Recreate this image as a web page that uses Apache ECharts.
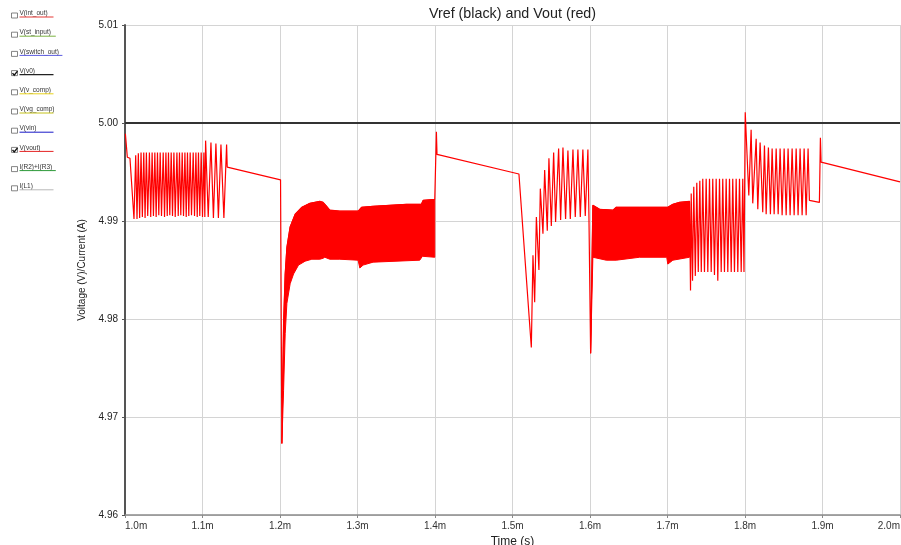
<!DOCTYPE html>
<html>
<head>
<meta charset="utf-8">
<script src="https://cdn.jsdelivr.net/npm/echarts@6/dist/echarts.min.js"></script>
<style>
html,body{margin:0;padding:0;background:#fff;}
#chart{width:901px;height:545px;}
</style>
</head>
<body>
<div id="chart"></div>
<script>
// ---------- DATA ----------
const xTicks = [1.0, 1.1, 1.2, 1.3, 1.4, 1.5, 1.6, 1.7, 1.8, 1.9, 2.0];
const yTicks = [4.96, 4.97, 4.98, 4.99, 5.00, 5.01];

const legendNames = ['V(int_out)', 'V(st_input)', 'V(switch_out)', 'V(v0)', 'V(v_comp)', 'V(vg_comp)', 'V(vin)', 'V(vout)', 'I(R2)+I(R3)', 'I(L1)'];
const legendColors = ['#e53935', '#7cb342', '#5c5ce0', '#222222', '#e8d21a', '#c4c21a', '#1a1ac8', '#e52222', '#2e9a3a', '#b8b8b8'];
const legendChecked = [false, false, false, true, false, false, false, true, false, false];

// Vref (black)
const vref = [[1.0, 5.0], [2.0, 5.0]];

// Vout (red) - trace pieces, [time ms, volts]
const voutSeg1 = [
  [1.0005,4.9989],[1.0030,4.9965],[1.0064,4.9964],[1.0116,4.9902],
  [1.0138,4.9967],[1.0155,4.9902],[1.0172,4.9969],[1.0189,4.9903],
  [1.0207,4.9970],[1.0224,4.9904],[1.0242,4.9970],[1.0259,4.9903],
  [1.0276,4.9970],[1.0293,4.9905],[1.0315,4.9970],[1.0332,4.9904],
  [1.0350,4.9970],[1.0367,4.9905],[1.0385,4.9970],[1.0402,4.9904],
  [1.0419,4.9970],[1.0436,4.9906],[1.0454,4.9970],[1.0471,4.9905],
  [1.0493,4.9970],[1.0510,4.9904],[1.0528,4.9970],[1.0545,4.9905],
  [1.0561,4.9970],[1.0578,4.9906],[1.0596,4.9970],[1.0613,4.9905],
  [1.0631,4.9970],[1.0648,4.9904],[1.0670,4.9970],[1.0687,4.9905],
  [1.0703,4.9970],[1.0720,4.9906],[1.0738,4.9970],[1.0755,4.9905],
  [1.0773,4.9970],[1.0790,4.9904],[1.0806,4.9970],[1.0823,4.9905],
  [1.0841,4.9970],[1.0858,4.9906],[1.0880,4.9970],[1.0897,4.9905],
  [1.0915,4.9970],[1.0932,4.9904],[1.0948,4.9970],[1.0965,4.9905],
  [1.0983,4.9970],[1.1000,4.9904],[1.1018,4.9970],[1.1030,4.9904],
  [1.1040,4.9982],[1.1074,4.9904],[1.1109,4.9980],[1.1141,4.9903],
  [1.1173,4.9979],[1.1205,4.9903],[1.1238,4.9978],[1.1276,4.9903],
  [1.1311,4.9978],[1.1319,4.9955],[1.2007,4.9942],[1.2024,4.9673]
];
const band1Upper = [
  [1.2024,4.9673],[1.2046,4.9795],[1.2067,4.9846],[1.2089,4.9873],[1.2131,4.9894],
  [1.2196,4.9907],[1.2282,4.9914],[1.2385,4.9918],[1.2514,4.9920],[1.2556,4.9919],
  [1.2591,4.9916],[1.2643,4.9911],[1.2772,4.9910],[1.3008,4.9910],[1.3052,4.9914],
  [1.3201,4.9915],[1.3632,4.9917],[1.3825,4.9917],[1.3846,4.9921],[1.3997,4.9922]
];
const band1Lower = [
  [1.2024,4.9673],[1.2046,4.9727],[1.2067,4.9785],[1.2089,4.9816],[1.2131,4.9836],
  [1.2175,4.9846],[1.2239,4.9855],[1.2324,4.9859],[1.2411,4.9861],[1.2514,4.9861],
  [1.2556,4.9862],[1.2578,4.9863],[1.2643,4.9861],[1.2772,4.9861],[1.3008,4.9860],
  [1.3030,4.9852],[1.3072,4.9855],[1.3201,4.9858],[1.3803,4.9860],[1.3838,4.9864],
  [1.3997,4.9863]
];
const voutSeg2 = [
  [1.4018,4.9991],[1.4026,4.9968],[1.5083,4.9948],[1.5243,4.9771],
  [1.5264,4.9865],[1.5286,4.9817],[1.5308,4.9904],[1.5341,4.9850],
  [1.5359,4.9933],[1.5393,4.9887],[1.5415,4.9952],[1.5449,4.9890],
  [1.5470,4.9964],[1.5501,4.9895],[1.5531,4.9970],[1.5556,4.9899],
  [1.5595,4.9974],[1.5621,4.9901],[1.5651,4.9975],[1.5685,4.9902],
  [1.5715,4.9972],[1.5746,4.9902],[1.5780,4.9973],[1.5810,4.9904],
  [1.5844,4.9973],[1.5875,4.9904],[1.5908,4.9973],[1.5939,4.9905],
  [1.5973,4.9973],[1.5986,4.9907],[1.6008,4.9765]
];
const band2Upper = [
  [1.6008,4.9765],[1.6037,4.9916],[1.6124,4.9912],[1.6295,4.9911],[1.6339,4.9914],
  [1.6639,4.9914],[1.7004,4.9914],[1.7069,4.9917],[1.7155,4.9919],[1.7284,4.9920]
];
const band2Lower = [
  [1.6008,4.9765],[1.6037,4.9863],[1.6210,4.9860],[1.6339,4.9860],[1.6639,4.9863],
  [1.6990,4.9863],[1.7004,4.9856],[1.7069,4.9860],[1.7284,4.9863]
];
const voutSeg3 = [
  [1.7297,4.9829],[1.7306,4.9928],[1.7323,4.9839],[1.7339,4.9935],
  [1.7359,4.9844],[1.7378,4.9939],[1.7397,4.9848],[1.7417,4.9941],
  [1.7436,4.9848],[1.7455,4.9943],[1.7477,4.9848],[1.7499,4.9943],
  [1.7520,4.9848],[1.7542,4.9943],[1.7564,4.9848],[1.7584,4.9943],
  [1.7606,4.9845],[1.7628,4.9943],[1.7649,4.9839],[1.7671,4.9943],
  [1.7693,4.9848],[1.7713,4.9943],[1.7735,4.9848],[1.7757,4.9943],
  [1.7778,4.9848],[1.7800,4.9943],[1.7822,4.9848],[1.7842,4.9943],
  [1.7864,4.9848],[1.7886,4.9943],[1.7907,4.9848],[1.7929,4.9943],
  [1.7951,4.9848],[1.7971,4.9943],[1.7987,4.9848],[1.8003,5.0011],
  [1.8049,4.9926],[1.8079,4.9993],[1.8100,4.9918],[1.8144,4.9984],
  [1.8165,4.9912],[1.8195,4.9980],[1.8229,4.9909],[1.8251,4.9977],
  [1.8273,4.9907],[1.8302,4.9975],[1.8328,4.9907],[1.8350,4.9974],
  [1.8376,4.9907],[1.8402,4.9974],[1.8428,4.9907],[1.8453,4.9974],
  [1.8479,4.9906],[1.8505,4.9974],[1.8531,4.9906],[1.8556,4.9974],
  [1.8582,4.9906],[1.8608,4.9974],[1.8634,4.9906],[1.8660,4.9974],
  [1.8685,4.9906],[1.8711,4.9974],[1.8737,4.9906],[1.8763,4.9974],
  [1.8789,4.9906],[1.8814,4.9974],[1.8831,4.9921],[1.8960,4.9919],
  [1.8973,4.9985],[1.8982,4.9960],[2.0000,4.9940]
];

// ---------- CHART ----------
const RED = '#ff0000';
const voutTrace = [].concat(voutSeg1, band1Upper, voutSeg2, band2Upper, voutSeg3);

function bandSeries(upper, lower) {
  return {
    type: 'custom',
    coordinateSystem: 'cartesian2d',
    silent: true,
    clip: true,
    z: 3,
    data: [upper[0]],
    renderItem: function (params, api) {
      const pts = upper.map(function (p) { return api.coord(p); })
        .concat(lower.slice().reverse().map(function (p) { return api.coord(p); }));
      return { type: 'polygon', shape: { points: pts }, style: { fill: RED, stroke: RED, lineWidth: 1 } };
    }
  };
}

const FONT = 'Liberation Sans, Arial, sans-serif';
const legendGraphics = [];
legendNames.forEach(function (name, i) {
  const y0 = 10 + i * 19.2;
  legendGraphics.push({
    type: 'rect', shape: { x: 11.5, y: y0 + 3, width: 6, height: 5 },
    style: { fill: '#fff', stroke: '#666', lineWidth: 0.8 }
  });
  if (legendChecked[i]) {
    legendGraphics.push({
      type: 'polyline', shape: { points: [[12.5, y0 + 5.5], [14.2, y0 + 7.5], [17.5, y0 + 3.5]] },
      style: { stroke: '#111', lineWidth: 1.4, fill: null }
    });
  }
  legendGraphics.push({
    type: 'text', x: 19.5, y: y0,
    style: { text: name, fontSize: 6.5, fontFamily: FONT, fill: '#333', textVerticalAlign: 'top' }
  });
  const len = Math.max(34, name.length * 3.3);
  legendGraphics.push({
    type: 'line', shape: { x1: 19.5, y1: y0 + 7, x2: 19.5 + len, y2: y0 + 7 },
    style: { stroke: legendColors[i], lineWidth: i === 3 ? 1.4 : 1 }
  });
});
legendGraphics.push({
  type: 'text', x: 512.5, y: 14,
  style: { text: 'Vref (black) and Vout (red)', fontSize: 14.3, fontFamily: FONT, fill: '#222', textAlign: 'center', textVerticalAlign: 'middle' }
});

const chart = echarts.init(document.getElementById('chart'), null, { renderer: 'canvas' });
chart.setOption({
  animation: false,
  backgroundColor: '#ffffff',
  grid: { left: 125, right: 1, top: 25, bottom: 30, containLabel: false, outerBoundsMode: 'none' },
  xAxis: {
    type: 'value',
    min: xTicks[0], max: xTicks[xTicks.length - 1], interval: 0.1,
    name: 'Time (s)', nameLocation: 'middle', nameGap: 19,
    nameTextStyle: { fontSize: 12, color: '#222', fontFamily: FONT },
    axisLine: { show: true, lineStyle: { color: '#8a8a8a', width: 1.5 } },
    axisTick: { show: true, length: 3, lineStyle: { color: '#8a8a8a' } },
    axisLabel: {
      fontSize: 10, color: '#333', margin: 6, fontFamily: FONT,
      alignMinLabel: 'left', alignMaxLabel: 'right',
      formatter: function (v) { return v.toFixed(1) + 'm'; }
    },
    splitLine: { show: true, lineStyle: { color: '#d4d4d4', width: 1 } }
  },
  yAxis: {
    type: 'value',
    min: yTicks[0], max: yTicks[yTicks.length - 1], interval: 0.01,
    name: 'Voltage (V)/Current (A)', nameLocation: 'middle', nameGap: 38,
    nameTextStyle: { fontSize: 10, color: '#222', fontFamily: FONT },
    axisLine: { show: true, lineStyle: { color: '#555', width: 2 } },
    axisTick: { show: true, length: 3, lineStyle: { color: '#555' } },
    axisLabel: {
      fontSize: 10, color: '#222', margin: 7, fontFamily: FONT,
      formatter: function (v) { return v.toFixed(2); }
    },
    splitLine: { show: true, lineStyle: { color: '#d4d4d4', width: 1 } }
  },
  graphic: legendGraphics,
  series: [
    {
      name: 'V(v0)', type: 'line', data: vref, showSymbol: false, z: 2,
      lineStyle: { color: '#333', width: 2 }
    },
    bandSeries(band1Upper, band1Lower),
    bandSeries(band2Upper, band2Lower),
    {
      name: 'V(vout)', type: 'line', data: voutTrace, showSymbol: false, z: 4,
      sampling: null, lineStyle: { color: RED, width: 1.2 }
    }
  ]
});
</script>
</body>
</html>
